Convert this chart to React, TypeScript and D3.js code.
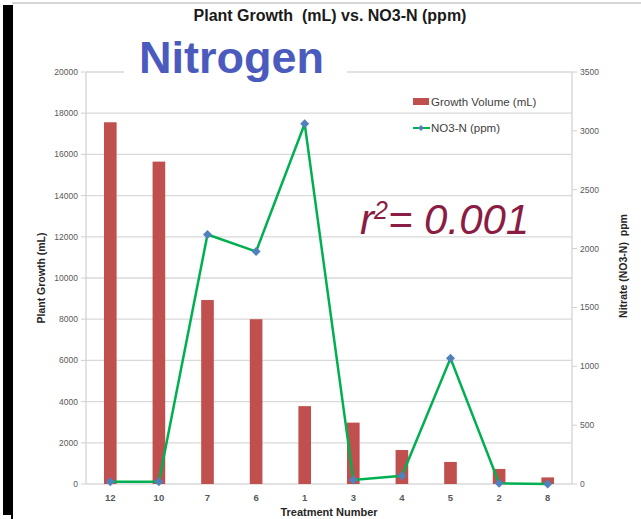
import * as d3 from "d3";

const width = 641;
const height = 519;

// treatments, in the order they appear on the x axis
const treatments = ["12", "10", "7", "6", "1", "3", "4", "5", "2", "8"];
// plant growth, mL (left axis)
const growth = [17560, 15650, 8930, 8000, 3780, 2980, 1650, 1070, 730, 320];
// nitrate, ppm (right axis)
const nitrate = [20, 20, 2120, 1975, 3060, 34, 70, 1068, 6, 0];

const leftTicks = [0, 2000, 4000, 6000, 8000, 10000, 12000, 14000, 16000, 18000, 20000];
const rightTicks = [0, 500, 1000, 1500, 2000, 2500, 3000, 3500];

const plot = { left: 86, right: 572, top: 72, bottom: 484 };

const App = () => {
  const x = d3
    .scaleBand<string>()
    .domain(treatments)
    .range([plot.left, plot.right])
    .padding(0);
  const yLeft = d3.scaleLinear().domain([0, 20000]).range([plot.bottom, plot.top]);
  const yRight = d3.scaleLinear().domain([0, 3500]).range([plot.bottom, plot.top]);

  const barW = x.bandwidth() * 0.26;
  const cx = (d: string) => (x(d) as number) + x.bandwidth() / 2;

  const line = d3
    .line<number>()
    .x((d, i) => cx(treatments[i]))
    .y((d) => yRight(d));

  const diamond = (px: number, py: number, r: number) =>
    `M${px},${py - r}L${px + r},${py}L${px},${py + r}L${px - r},${py}Z`;

  const font = "'Liberation Sans', Arial, sans-serif";

  return (
    <svg
      width={width}
      height={height}
      style={{ position: "absolute", left: 0, top: 0, display: "block", background: "#fff" }}
    >
      {/* page frame bits */}
      <line x1={12} x2={width} y1={3} y2={3} stroke="#c8c8c8" strokeWidth={1.5} />
      <rect x={3} y={5} width={10} height={510} fill="#000" />
      <rect x={11} y={515} width={2} height={4} fill="#000" />

      {/* gridlines */}
      {leftTicks.map((t) => (
        <line
          key={"g" + t}
          x1={plot.left}
          x2={plot.right}
          y1={yLeft(t)}
          y2={yLeft(t)}
          stroke="#d9d9d9"
          strokeWidth={1.3}
        />
      ))}

      {/* axes */}
      <line x1={plot.left} x2={plot.left} y1={plot.top} y2={plot.bottom} stroke="#d0d0d0" strokeWidth={1.2} />
      <line x1={plot.right} x2={plot.right} y1={plot.top} y2={plot.bottom} stroke="#d0d0d0" strokeWidth={1.2} />
      {leftTicks.map((t) => (
        <g key={"lt" + t}>
          <line x1={plot.left - 5} x2={plot.left} y1={yLeft(t)} y2={yLeft(t)} stroke="#d0d0d0" />
          <text
            x={78}
            y={yLeft(t)}
            dy="0.35em"
            textAnchor="end"
            fontFamily={font}
            fontSize={8.5}
            fill="#595959"
          >
            {t}
          </text>
        </g>
      ))}
      {rightTicks.map((t) => (
        <g key={"rt" + t}>
          <line x1={plot.right} x2={plot.right + 5} y1={yRight(t)} y2={yRight(t)} stroke="#d0d0d0" />
          <text
            x={580}
            y={yRight(t)}
            dy="0.35em"
            textAnchor="start"
            fontFamily={font}
            fontSize={8.5}
            fill="#595959"
          >
            {t}
          </text>
        </g>
      ))}
      {treatments.map((t) => (
        <text
          key={"xt" + t}
          x={cx(t)}
          y={498}
          dy="0.35em"
          textAnchor="middle"
          fontFamily={font}
          fontSize={9.5}
          fontWeight="bold"
          fill="#595959"
        >
          {t}
        </text>
      ))}

      {/* bars */}
      {growth.map((v, i) => (
        <rect
          key={"b" + i}
          x={cx(treatments[i]) - barW / 2}
          y={yLeft(v)}
          width={barW}
          height={plot.bottom - yLeft(v)}
          fill="#c0504d"
        />
      ))}

      {/* nitrate line */}
      <path d={line(nitrate) || ""} fill="none" stroke="#00b050" strokeWidth={2.5} />
      {nitrate.map((v, i) => (
        <path key={"m" + i} d={diamond(cx(treatments[i]), yRight(v), 4.5)} fill="#4f81bd" />
      ))}

      {/* legend */}
      <rect x={413} y={98} width={16} height={7} fill="#c0504d" />
      <text x={431} y={102} dy="0.35em" fontFamily={font} fontSize={11.5} fill="#404040">
        Growth Volume (mL)
      </text>
      <line x1={413} x2={430} y1={128} y2={128} stroke="#00b050" strokeWidth={2} />
      <path d={diamond(421, 128, 3)} fill="#4f81bd" />
      <text x={431} y={128} dy="0.35em" fontFamily={font} fontSize={11.5} fill="#404040">
        NO3-N (ppm)
      </text>

      {/* title */}
      <text
        x={330}
        y={21}
        textAnchor="middle"
        fontFamily={font}
        fontSize={16}
        fontWeight="bold"
        fill="#1a1a1a"
        style={{ whiteSpace: "pre" }}
      >
        {"Plant Growth  (mL) vs. NO3-N (ppm)"}
      </text>

      {/* overlay label */}
      <rect x={124} y={34} width={223} height={48} fill="#fff" />
      <text x={139} y={73} fontFamily={font} fontSize={45} fontWeight="bold" fill="#4a5bbd">
        Nitrogen
      </text>

      <text
        x={360}
        y={234}
        fontFamily={font}
        fontSize={42}
        fontStyle="italic"
        fill="#8b1c43"
      >
        r<tspan dy={-15} fontSize={25}>2</tspan>
        <tspan dy={15}>= 0.001</tspan>
      </text>

      {/* axis titles */}
      <text
        transform={`translate(45,${(plot.top + plot.bottom) / 2}) rotate(-90)`}
        textAnchor="middle"
        fontFamily={font}
        fontSize={10.5}
        fontWeight="bold"
        fill="#262626"
      >
        Plant Growth (mL)
      </text>
      <text
        transform={`translate(627,${(plot.top + plot.bottom) / 2 - 12}) rotate(-90)`}
        textAnchor="middle"
        fontFamily={font}
        fontSize={10.5}
        fontWeight="bold"
        fill="#262626"
        style={{ whiteSpace: "pre" }}
      >
        {"Nitrate (NO3-N)  ppm"}
      </text>
      <text
        x={(plot.left + plot.right) / 2}
        y={516}
        textAnchor="middle"
        fontFamily={font}
        fontSize={11}
        fontWeight="bold"
        fill="#262626"
      >
        Treatment Number
      </text>
    </svg>
  );
};

export default App;
